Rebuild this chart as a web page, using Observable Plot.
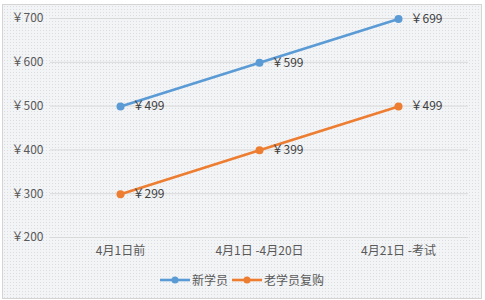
<!DOCTYPE html>
<html><head><meta charset="utf-8">
<script src="https://cdn.jsdelivr.net/npm/d3@7"></script>
<script src="https://cdn.jsdelivr.net/npm/@observablehq/plot@0.6"></script>
<style>
body{margin:0;background:#fff;width:485px;height:300px;overflow:hidden;position:relative;font-family:"Noto Sans CJK SC",sans-serif}
#chart{position:absolute;left:2px;top:4px;width:478px;height:293px;border:1px solid #d4d4d4;background-color:#f3f4f6;background-image:radial-gradient(#dadde2 0.7px, transparent 0.8px);background-size:3px 3px}
#legend{display:flex;justify-content:center;align-items:center;gap:4px;margin-top:6px;font-size:12px;color:#595959;padding-left:0px}
.item{display:flex;align-items:center;gap:2px}
svg.plot{background:transparent}
</style></head><body>
<div id="chart"></div>
<script>
const categories = ["4月1日前", "4月1日 -4月20日", "4月21日 -考试"];
const series = ["新学员", "老学员复购"];
const newStudents = [499, 599, 699];
const returning = [299, 399, 499];
const colors = ["#5b9bd5", "#ed7d31"];
const yTicks = [200, 300, 400, 500, 600, 700];

const data = [
  ...categories.map((c, i) => ({cat: c, value: newStudents[i], series: series[0]})),
  ...categories.map((c, i) => ({cat: c, value: returning[i], series: series[1]}))
];
const yen = d => "￥" + d;

const plot = Plot.plot({
  width: 478,
  height: 260,
  marginLeft: 47,
  marginRight: 13,
  marginTop: 13,
  marginBottom: 28,
  style: {fontFamily: '"Noto Sans CJK SC", sans-serif', fontSize: "12px", color: "#595959", background: "transparent"},
  x: {type: "point", domain: categories, padding: 0.5, label: null},
  y: {domain: [200, 700], label: null},
  color: {domain: series, range: colors},
  marks: [
    Plot.ruleY(yTicks, {stroke: "#d9d9d9", strokeWidth: 1}),
    Plot.axisX({tickSize: 0, tickPadding: 9, fontSize: 12, label: null}),
    Plot.axisY({ticks: yTicks, tickFormat: yen, tickSize: 0, tickPadding: 7, fontSize: 12, label: null}),
    Plot.line(data, {x: "cat", y: "value", z: "series", stroke: "series", strokeWidth: 2.6}),
    Plot.dot(data, {x: "cat", y: "value", fill: "series", r: 4}),
    Plot.text(data, {x: "cat", y: "value", text: d => yen(d.value), dx: 12, textAnchor: "start", fill: "#404040", fontSize: 12})
  ]
});
const chart = document.getElementById("chart");
chart.appendChild(plot);

const legend = document.createElement("div");
legend.id = "legend";
series.forEach((s, i) => {
  const item = document.createElement("div");
  item.className = "item";
  item.innerHTML = `<svg width="30" height="10"><line x1="0" x2="30" y1="5" y2="5" stroke="${colors[i]}" stroke-width="2.6"/><circle cx="15" cy="5" r="3.5" fill="${colors[i]}"/></svg><span>${s}</span>`;
  legend.appendChild(item);
});
chart.appendChild(legend);
</script>
</body></html>
